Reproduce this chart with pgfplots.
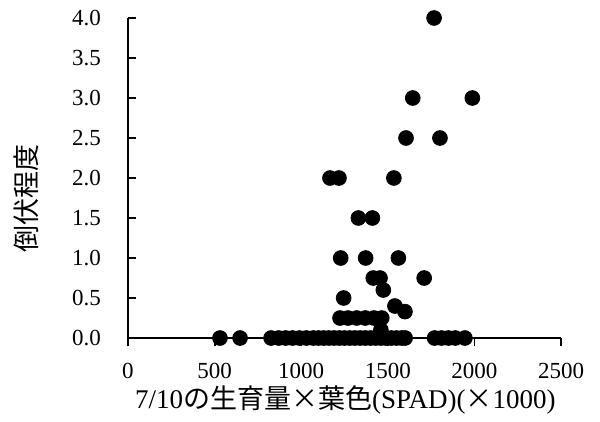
\documentclass[border=0pt]{standalone}
\usepackage{fontspec}
\setmainfont{Liberation Serif}
\newfontfamily\jp{Noto Sans CJK JP}
\usepackage{pgfplots}
\pgfplotsset{compat=1.18}

\begin{document}
\begin{tikzpicture}
\begin{axis}[
    scale only axis,
    width=216.5pt, height=160pt,
    xmin=0, xmax=2500,
    ymin=0, ymax=4,
    axis lines=left,
    axis line style={-, line width=1pt},
    tick align=inside,
    major tick length=4pt,
    every tick/.style={black, line width=0.9pt},
    x tick style={yshift=-4pt},
    xtick={0,500,1000,1500,2000,2500},
    ytick={0,0.5,1,1.5,2,2.5,3,3.5,4},
    /pgf/number format/1000 sep={},
    /pgf/number format/assume math mode=true,
    tick label style={font=\fontsize{11.5}{13}\selectfont},
    xticklabel style={yshift=-9pt},
    yticklabel style={xshift=-10pt,
        /pgf/number format/fixed,
        /pgf/number format/fixed zerofill,
        /pgf/number format/precision=1},
    xlabel={7/10{\jp の生育量×葉色}(SPAD)({\jp ×}1000)},
    ylabel={\jp 倒伏程度},
    label style={font=\fontsize{13.5}{16}\selectfont},
    xlabel style={at={(axis description cs:0.502,-0.194)}, anchor=center},
    ylabel style={at={(axis description cs:-0.2356,0.4375)}, anchor=center},
    clip=false,
]
\addplot[only marks, mark=*, mark size=3.7pt, mark options={fill=black, draw=black}]
    coordinates {
    (531,0)(647,0)
    (826,0)(870,0)(910,0)(950,0)(990,0)(1030,0)(1070,0)(1100,0)(1130,0)
    (1160,0)(1190,0)(1220,0)(1250,0)(1280,0)(1310,0)(1340,0)(1370,0)(1400,0)
    (1430,0)(1460,0)(1490,0)(1520,0)(1550,0)(1580,0)(1600,0)
    (1770,0)(1810,0)(1850,0)(1890,0)(1945,0)
    (1460,0.1)
    (1224,0.25)(1270,0.25)(1320,0.25)(1370,0.25)(1420,0.25)(1465,0.25)
    (1599,0.33)(1541,0.4)
    (1245,0.5)(1474,0.6)
    (1416,0.75)(1455,0.75)(1710,0.75)
    (1228,1)(1372,1)(1561,1)
    (1330,1.5)(1411,1.5)
    (1166,2)(1218,2)(1535,2)
    (1605,2.5)(1801,2.5)
    (1644,3)(1988,3)
    (1767,4)
    };
\coordinate (bl) at (rel axis cs:-0.2956,-0.253);
\coordinate (tr) at (rel axis cs:1.090,1.05625);
\end{axis}
\path (bl) rectangle (tr);
\end{tikzpicture}
\end{document}
